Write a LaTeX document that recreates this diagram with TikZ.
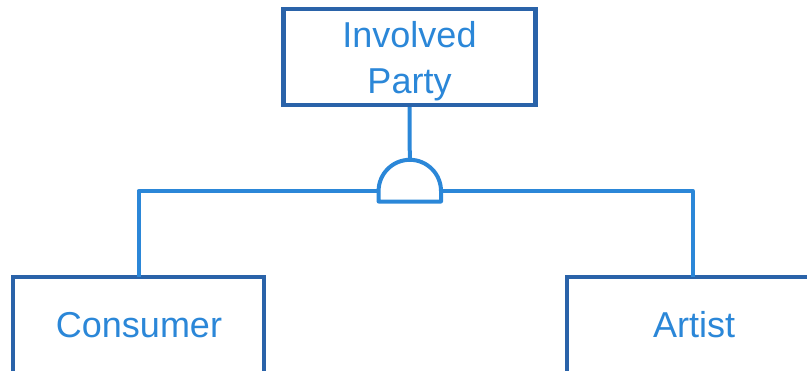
\documentclass[tikz,border=0pt]{standalone}
\usepackage{fontspec}
\setmainfont{Liberation Sans}
\usetikzlibrary{calc}
\definecolor{boxblue}{HTML}{2A63A9}
\definecolor{linkblue}{HTML}{2B87D8}
\begin{document}
\begin{tikzpicture}[x=1pt,y=-1pt,
  entity/.style={draw=boxblue,line width=4.4pt,fill=white,inner sep=0pt,minimum width=#1},
  lbl/.style={text=linkblue,font=\fontsize{36}{46}\selectfont,inner sep=0pt},
  link/.style={draw=linkblue,line width=4pt,line join=round}]
  \useasboundingbox (0,0) rectangle (807,370);
  \clip (0,0) rectangle (807,370);

  % entity boxes
  \node[entity=252pt,minimum height=96pt] (party) at (409.5,57) {};
  \node[entity=251pt,minimum height=130pt] (consumer) at (138.5,342) {};
  \node[entity=340pt,minimum height=130pt] (artist) at (737,342) {};

  % labels (a two-line node sits on the baseline of its last line)
  \node[lbl,anchor=base,align=center] (partytext) at (409.5,93) {Involved\\Party};
  \node[lbl,anchor=base] (consumertext) at (139,337) {Consumer};
  \node[lbl,anchor=base] (artisttext) at (694,337) {Artist};

  % subtype gate
  \coordinate (gateL) at (378.6,191);
  \coordinate (gateR) at (441,191);
  \coordinate (gateT) at (409.8,159.8);
  \coordinate (consumerIn) at (138.5,277);
  \coordinate (artistIn) at (692.7,277);
  \draw[link] (gateL) -- ++(0,10.5) -- ($(gateR)+(0,10.5)$) -- (gateR) arc (0:-180:31.2) -- cycle;

  % connectors
  \draw[link] (party.south) -- (gateT);
  \draw[link] (gateL) -| (consumerIn);
  \draw[link] (gateR) -| (artistIn);
\end{tikzpicture}
\end{document}
